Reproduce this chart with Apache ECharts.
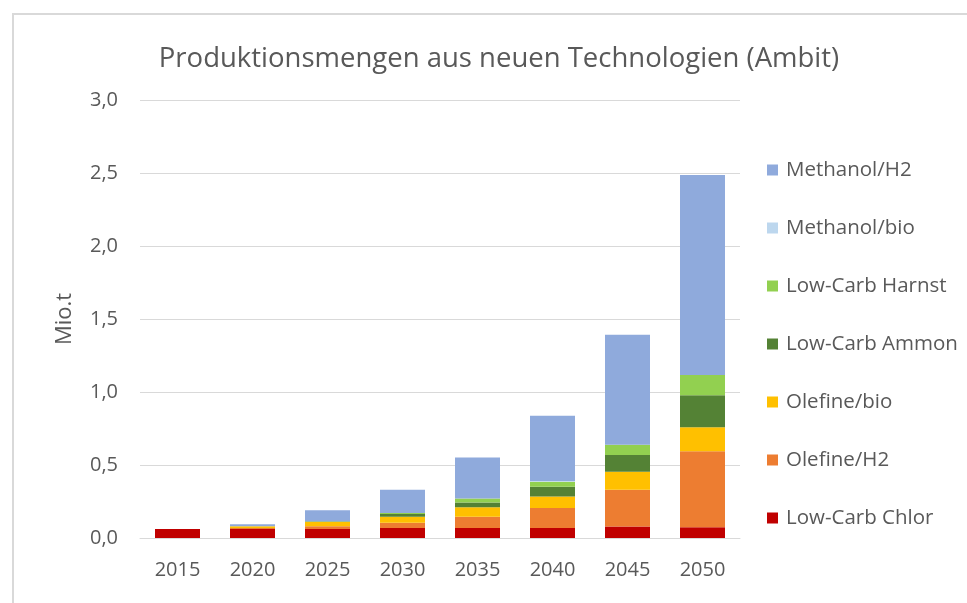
<!DOCTYPE html>
<html>
<head>
<meta charset="utf-8">
<script src="https://cdn.jsdelivr.net/npm/echarts@6/dist/echarts.min.js"></script>
<style>
	html, body { margin: 0; padding: 0; background: #fff; }
	#chart { width: 967px; height: 603px; }
</style>
</head>
<body>
<div id="chart"></div>
<script>
// Jahre (Kategorien)
const years = ['2015', '2020', '2025', '2030', '2035', '2040', '2045', '2050'];

// Werte in Mio.t, von unten nach oben gestapelt
const chlor = [0.062, 0.062, 0.062, 0.068, 0.068, 0.068, 0.078, 0.073];
const olefineH2 = [0, 0.006, 0.018, 0.037, 0.078, 0.137, 0.253, 0.522];
const olefineBio = [0, 0.012, 0.03, 0.041, 0.064, 0.08, 0.123, 0.164];
const ammon = [0, 0, 0.003, 0.018, 0.034, 0.066, 0.114, 0.219];
const harnst = [0, 0, 0.002, 0.007, 0.027, 0.034, 0.071, 0.139];
const methanolBio = [0, 0, 0, 0, 0, 0.006, 0, 0];
const methanolH2 = [0, 0.015, 0.075, 0.16, 0.28, 0.447, 0.753, 1.37];

const yTicks = [0, 0.5, 1.0, 1.5, 2.0, 2.5, 3.0];

const seriesInfo = [
	{ name: 'Low-Carb Chlor', data: chlor, color: '#C00000' },
	{ name: 'Olefine/H2', data: olefineH2, color: '#ED7D31' },
	{ name: 'Olefine/bio', data: olefineBio, color: '#FFC000' },
	{ name: 'Low-Carb Ammon', data: ammon, color: '#548235' },
	{ name: 'Low-Carb Harnst', data: harnst, color: '#92D050' },
	{ name: 'Methanol/bio', data: methanolBio, color: '#BDD7EE' },
	{ name: 'Methanol/H2', data: methanolH2, color: '#8FAADC' },
];

const font = '"Open Sans", "Noto Sans", sans-serif';
const chart = echarts.init(document.getElementById('chart'));

const option = {
	backgroundColor: '#fff',
	animation: false,
	title: {
		text: 'Produktionsmengen aus neuen Technologien (Ambit)',
		left: 494,
		textAlign: 'center',
		top: 40,
		textStyle: { fontFamily: font, fontSize: 27.5, fontWeight: 'normal', color: '#595959' },
	},
	graphic: [
		{
			type: 'polyline',
			shape: { points: [[13, 603], [13, 14], [967, 14]] },
			style: { stroke: '#d9d9d9', lineWidth: 2, fill: null },
		},
	],
	legend: {
		orient: 'vertical',
		left: 762,
		top: 154,
		itemWidth: 11,
		itemHeight: 11,
		itemGap: 36,
		icon: 'rect',
		data: seriesInfo.map((s) => s.name).reverse(),
		textStyle: { fontFamily: font, fontSize: 20.5, lineHeight: 22, color: '#595959', padding: [0, 0, 0, 3] },
	},
	grid: { left: 140, right: 227, top: 100, bottom: 65 },
	xAxis: {
		type: 'category',
		data: years,
		axisLine: { lineStyle: { color: '#d9d9d9', width: 1 } },
		axisTick: { show: false },
		axisLabel: { fontFamily: font, fontSize: 20, color: '#595959', margin: 22 },
	},
	yAxis: {
		type: 'value',
		min: yTicks[0],
		max: yTicks[yTicks.length - 1],
		interval: 0.5,
		name: 'Mio.t',
		nameLocation: 'middle',
		nameGap: 64,
		nameTextStyle: { fontFamily: font, fontSize: 22, color: '#595959' },
		axisLabel: {
			fontFamily: font,
			fontSize: 20,
			color: '#595959',
			margin: 22,
			formatter: (v) => v.toFixed(1).replace('.', ','),
		},
		splitLine: { lineStyle: { color: '#d9d9d9', width: 1 } },
		axisLine: { show: false },
		axisTick: { show: false },
	},
	series: seriesInfo.map((s) => ({
		name: s.name,
		type: 'bar',
		stack: 'total',
		barWidth: 45,
		data: s.data,
		itemStyle: { color: s.color },
	})),
};

chart.setOption(option);
</script>
</body>
</html>
